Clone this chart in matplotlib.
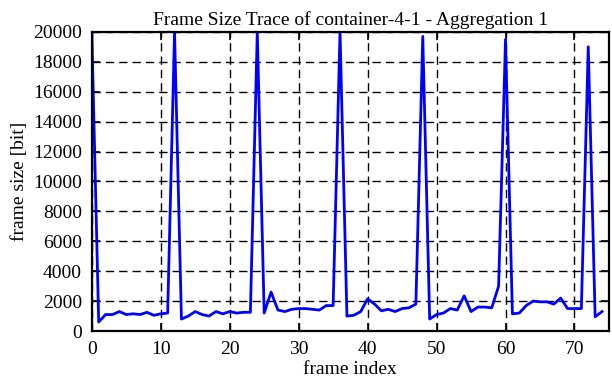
import matplotlib
matplotlib.use("Agg")
import matplotlib.pyplot as plt
import numpy as np

plt.rcParams['font.family'] = ['Liberation Serif', 'DejaVu Serif']

# frame sizes in bit, frames 0..74
frame_size = [20000, 600, 1100, 1100, 1300, 1100, 1150, 1100, 1250, 1050,
              1150, 1200, 20000, 800, 1000, 1300, 1100, 1000, 1300, 1150,
              1300, 1200, 1250, 1250, 20000, 1200, 2600, 1400, 1300, 1450,
              1500, 1500, 1450, 1400, 1700, 1700, 20000, 1000, 1050, 1300,
              2150, 1800, 1350, 1450, 1300, 1500, 1550, 1800, 19700, 800,
              1100, 1200, 1500, 1400, 2350, 1300, 1600, 1600, 1550, 3000,
              19500, 1150, 1200, 1700, 2000, 1950, 1950, 1800, 2200, 1500,
              1500, 1500, 19000, 950, 1300]
frame_index = np.arange(len(frame_size))

x_ticks = [0, 10, 20, 30, 40, 50, 60, 70]
y_ticks = list(range(0, 20001, 2000))

fig = plt.figure(figsize=(6.12, 3.82), dpi=100)
ax = fig.add_axes([0.150, 0.1335, 0.845, 0.783])

ax.plot(frame_index, frame_size, color='#0000ff', linewidth=2)

ax.set_xlim(0, 75)
ax.set_ylim(0, 20000)
ax.set_xticks(x_ticks)
ax.set_yticks(y_ticks)
ax.tick_params(direction='in', top=True, right=True, length=6, width=1.2,
               labelsize=14, pad=7)
ax.grid(True, color='black', linestyle=(0, (6, 3.6)), linewidth=1)
for s in ax.spines.values():
    s.set_linewidth(1.6)

ax.set_xlabel('frame index', fontsize=14, labelpad=2)
ax.set_ylabel('frame size [bit]', fontsize=14, labelpad=4)
ax.set_title('Frame Size Trace of container-4-1 - Aggregation 1', fontsize=14, pad=5)

fig.savefig('out.png', dpi=100)
